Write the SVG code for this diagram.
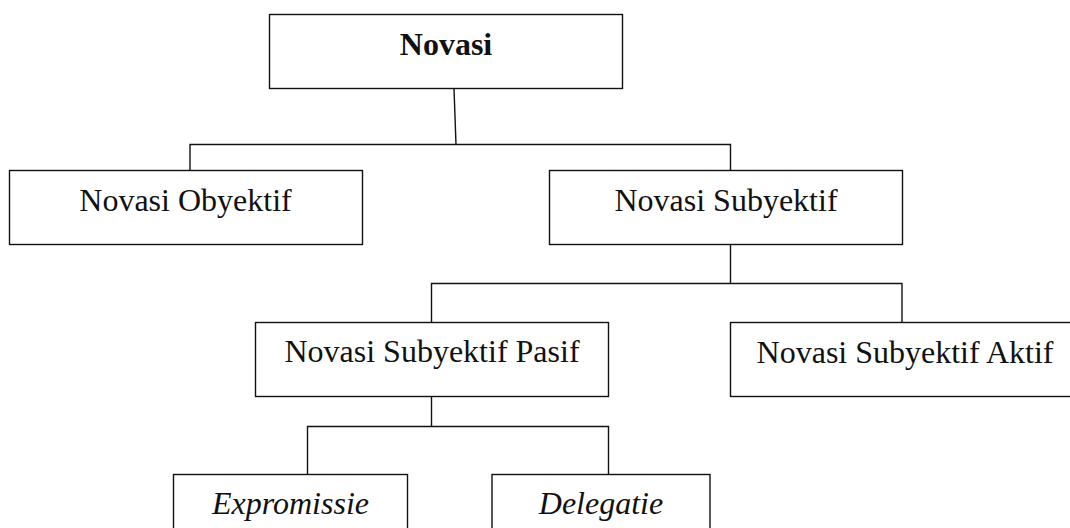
<svg xmlns="http://www.w3.org/2000/svg" width="1070" height="528" viewBox="0 0 1070 528">
  <style>
    .box { fill: none; stroke: #111; stroke-width: 1.4; }
    .conn { fill: none; stroke: #111; stroke-width: 1.4; }
  </style>
  <rect width="1070" height="528" fill="#fff"/>
  <g id="connectors">
    <path class="conn" d="M454,88.5 L456,144.5"/>
    <path class="conn" d="M190,170.5 V144.5 H730.5 V170.5"/>
    <path class="conn" d="M730.5,244.5 V283.5"/>
    <path class="conn" d="M431.5,322.5 V283.5 H902 V322.5"/>
    <path class="conn" d="M431.5,396.5 V426.5"/>
    <path class="conn" d="M307.5,474.5 V426.5 H608.5 V474.5"/>
  </g>
  <g id="novasi">
    <rect class="box" x="269.5" y="14.5" width="353" height="74"/>
    <text x="446" y="55" font-family="Liberation Serif" font-size="32" font-weight="bold" fill="#111" text-anchor="middle">Novasi</text>
  </g>
  <g id="novasi-obyektif">
    <rect class="box" x="9.5" y="170.5" width="353" height="74"/>
    <text x="185.5" y="210.5" font-family="Liberation Serif" font-size="32" fill="#111" text-anchor="middle">Novasi Obyektif</text>
  </g>
  <g id="novasi-subyektif">
    <rect class="box" x="549.5" y="170.5" width="353" height="74"/>
    <text x="726" y="210.5" font-family="Liberation Serif" font-size="32" fill="#111" text-anchor="middle">Novasi Subyektif</text>
  </g>
  <g id="novasi-subyektif-pasif">
    <rect class="box" x="255.5" y="322.5" width="353" height="74"/>
    <text x="432" y="362" font-family="Liberation Serif" font-size="32" fill="#111" text-anchor="middle">Novasi Subyektif Pasif</text>
  </g>
  <g id="novasi-subyektif-aktif">
    <rect class="box" x="730.5" y="322.5" width="350" height="74"/>
    <text x="905" y="362.5" font-family="Liberation Serif" font-size="32" fill="#111" text-anchor="middle">Novasi Subyektif Aktif</text>
  </g>
  <g id="expromissie">
    <rect class="box" x="173.5" y="474.5" width="234" height="70"/>
    <text x="290.5" y="513.5" font-family="Liberation Serif" font-size="32" font-style="italic" fill="#111" text-anchor="middle">Expromissie</text>
  </g>
  <g id="delegatie">
    <rect class="box" x="492" y="474.5" width="218" height="70"/>
    <text x="601" y="513.5" font-family="Liberation Serif" font-size="32" font-style="italic" fill="#111" text-anchor="middle">Delegatie</text>
  </g>
</svg>
